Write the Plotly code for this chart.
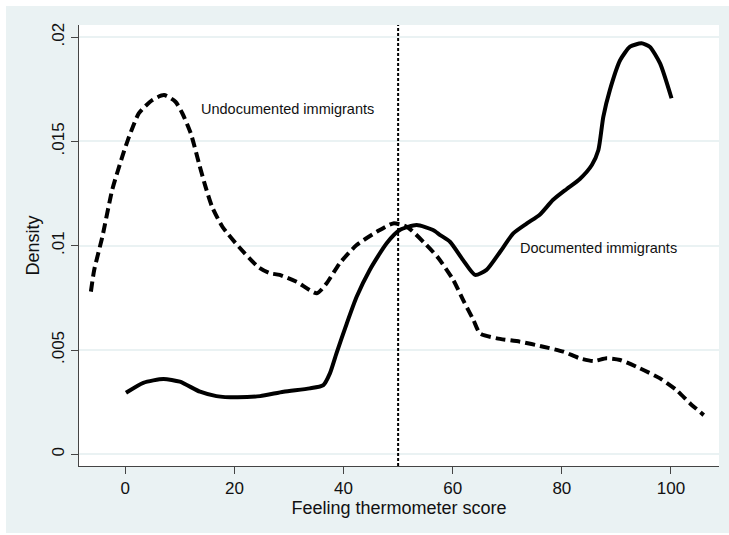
import plotly.graph_objects as go

# Undocumented immigrants (dashed) density
undoc_x = [-6.3, -5.7, -4.2, -2.4, -0.55, 0.7, 2.5, 4.95, 7.1, 9.2, 10.45, 12.0, 13.5, 14.7,
           15.9, 17.8, 20.8, 24.5, 26.5, 28.3, 31.4, 35.1, 36.9, 39.3, 42.4, 46.1, 49.1, 51.6,
           55.2, 57.4, 60.1, 61.9, 63.8, 65.0, 68.1, 72.3, 76.6, 80.3, 83.3, 85.8, 88.2, 90.7,
           94.3, 98.0, 101.0, 103.5, 106.0]
undoc_y = [.00780, .00883, .01043, .01267, .01427, .01523, .01635, .01698, .01722, .01690,
           .01635, .01539, .01395, .01283, .01187, .01091, .00995, .00895, .00868, .00860,
           .00827, .00772, .00820, .00916, .01003, .01067, .01107, .01091, .01003, .00940,
           .00836, .00740, .00644, .00580, .00556, .00540, .00516, .00492, .00460, .00447,
           .00460, .00452, .00412, .00364, .00308, .00244, .00188]

# Documented immigrants (solid) density
doc_x = [0.13, 3.3, 7.0, 10.0, 13.7, 16.7, 20.4, 24.7, 29.0, 33.8, 36.3, 37.5, 38.7, 40.6,
         42.4, 44.8, 47.9, 50.3, 53.4, 56.4, 57.7, 59.5, 61.9, 64.1, 66.2, 68.7, 71.1, 73.6,
         76.0, 78.4, 80.9, 83.3, 85.5, 86.7, 87.6, 88.8, 90.7, 92.5, 94.6, 96.1, 98.0, 100.1]
doc_y = [.00295, .00343, .00361, .00348, .00300, .00279, .00273, .00279, .00300, .00316,
         .00332, .00388, .00484, .00628, .00755, .00884, .01012, .01075, .01099, .01075,
         .01051, .01019, .00931, .00860, .00884, .00971, .01059, .01107, .01150, .01220,
         .01272, .01320, .01387, .01459, .01618, .01746, .01890, .01954, .01970, .01954,
         .01874, .01707]

cutoff = 50
x_ticks = [0, 20, 40, 60, 80, 100]
y_ticks = [0, 0.005, 0.01, 0.015, 0.02]
y_tick_labels = ["0", ".005", ".01", ".015", ".02"]

BG = "#eaf2f3"
FONT = "Liberation Sans, Arial, sans-serif"

W, H = 729, 535
PL, PR, PT, PB = 79, 719, 25, 466  # plot area in pixels


def px_x(p):
    return (p - PL) / (PR - PL)


def px_y(p):
    return (PB - p) / (PB - PT)


fig = go.Figure()
fig.add_trace(go.Scatter(x=undoc_x, y=undoc_y, mode="lines",
                         line=dict(color="black", width=4, dash="10px,5px", shape="spline", smoothing=0.6),
                         showlegend=False, hoverinfo="skip"))
fig.add_trace(go.Scatter(x=doc_x, y=doc_y, mode="lines",
                         line=dict(color="black", width=4, shape="spline", smoothing=0.6),
                         showlegend=False, hoverinfo="skip"))

fig.add_shape(type="line", xref="x", yref="paper", x0=cutoff, x1=cutoff, y0=0, y1=1,
              line=dict(color="black", width=2, dash="3px,2px"))

# thin white strips around the light background panel
for x0, x1, y0, y1 in [(-0.5, px_x(6), -0.5, 1.5), (-0.5, 1.5, px_y(6), 1.5),
                       (-0.5, 1.5, -0.5, px_y(533))]:
    fig.add_shape(type="rect", xref="paper", yref="paper", x0=x0, x1=x1, y0=y0, y1=y1,
                  fillcolor="white", line_width=0, layer="below")

fig.add_annotation(x=13.5, y=0.01654, text="Undocumented immigrants", showarrow=False,
                   xanchor="left", yanchor="middle", font=dict(size=14.5, color="#111", family=FONT))
fig.add_annotation(x=72.0, y=0.009875, text="Documented immigrants", showarrow=False,
                   xanchor="left", yanchor="middle", font=dict(size=14.5, color="#111", family=FONT))

fig.update_layout(
    width=W, height=H,
    margin=dict(l=PL, r=W - PR, t=PT, b=H - PB, autoexpand=False),
    paper_bgcolor=BG, plot_bgcolor="white",
    font=dict(family=FONT, color="#111"),
    xaxis=dict(range=[-8.48, 108.8], tickvals=x_ticks, ticks="outside", ticklen=7,
               tickwidth=1, tickcolor="#444", showline=True, linecolor="#444", linewidth=1,
               showgrid=False, zeroline=False, tickfont=dict(size=17), automargin=False,
               title=dict(text="Feeling thermometer score", font=dict(size=18), standoff=0)),
    yaxis=dict(range=[-0.00056, 0.02058], tickvals=y_ticks, ticktext=y_tick_labels,
               tickangle=-90, ticks="outside", ticklen=7, tickwidth=1, tickcolor="#444",
               showline=True, linecolor="#444", linewidth=1, showgrid=True, gridcolor=BG,
               gridwidth=1.5, zeroline=False, tickfont=dict(size=17), automargin=False,
               ticklabelstandoff=0,
               title=dict(text="Density", font=dict(size=18), standoff=4)),
)

# remove the default 8px page margin so the figure fills the window exactly
fig.write_html("out.html", config={"displayModeBar": False},
               post_script="document.body.style.margin='0';")
